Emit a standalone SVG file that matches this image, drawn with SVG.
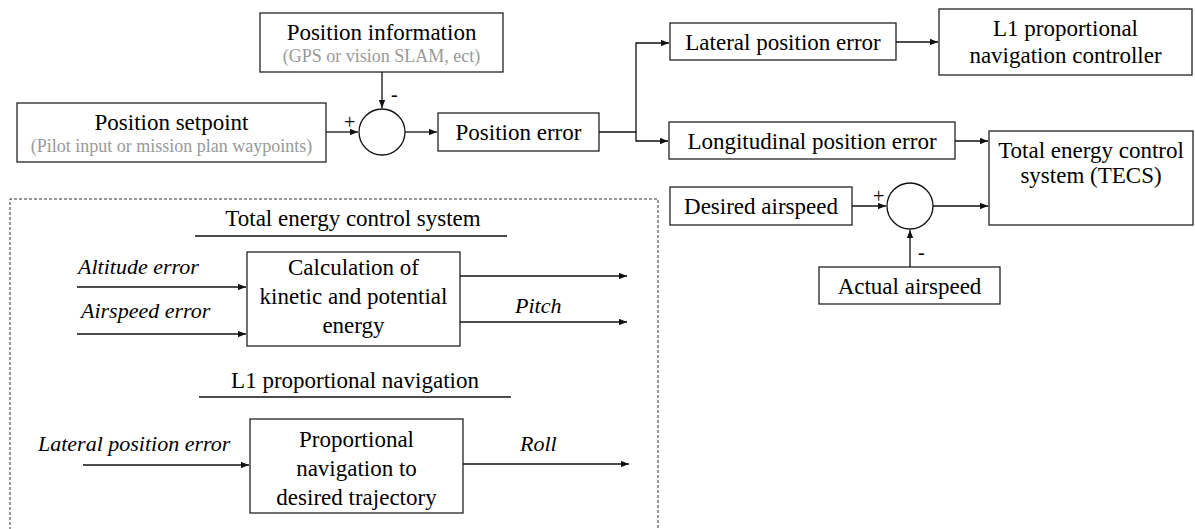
<svg xmlns="http://www.w3.org/2000/svg" width="1195" height="529" viewBox="0 0 1195 529">
<style>
.box{fill:#fff;stroke:#222;stroke-width:1.3}
.ln{fill:none;stroke:#111;stroke-width:1.3}
.t{font-family:"Liberation Serif","Times New Roman",Tinos,"DejaVu Serif",serif;font-size:23px;fill:#000;text-anchor:middle}
.s{font-family:"Liberation Serif","Times New Roman",Tinos,"DejaVu Serif",serif;font-size:18px;fill:#999;text-anchor:middle}
.i{font-family:"Liberation Serif","Times New Roman",Tinos,"DejaVu Serif",serif;font-size:22px;font-style:italic;fill:#000}
.sg{font-family:"Liberation Serif","Times New Roman",Tinos,"DejaVu Serif",serif;font-size:20px;fill:#000}
</style>
<defs>
<marker id="a" viewBox="0 0 10 8" refX="10" refY="4" markerWidth="8" markerHeight="6.4" markerUnits="userSpaceOnUse" orient="auto">
<path d="M0,0 L10,4 L0,8 z" fill="#111"/>
</marker>
</defs>
<g id="dashed-frame">
<path d="M10,530 L10,199 L658,199 L658,530" fill="none" stroke="#333" stroke-width="1" stroke-dasharray="3,2"/>
</g>
<g id="position-information">
<rect class="box" x="260" y="13" width="243" height="59"/>
<text class="t" x="381.5" y="40">Position information</text>
<text class="s" x="381.5" y="62">(GPS or vision SLAM, ect)</text>
</g>
<g id="position-setpoint">
<rect class="box" x="17" y="103" width="309" height="59"/>
<text class="t" x="171.5" y="130">Position setpoint</text>
<text class="s" x="171.5" y="152">(Pilot input or mission plan waypoints)</text>
</g>
<g id="sum1">
<circle cx="382" cy="132" r="23" fill="#fff" stroke="#111" stroke-width="1.3"/>
<text class="sg" x="344" y="129">+</text>
<text class="sg" x="391" y="101">-</text>
</g>
<g id="position-error">
<rect class="box" x="438" y="113" width="161" height="38"/>
<text class="t" x="518.5" y="140">Position error</text>
</g>
<g id="lateral-position-error">
<rect class="box" x="670" y="23" width="226" height="37"/>
<text class="t" x="783" y="50">Lateral position error</text>
</g>
<g id="longitudinal-position-error">
<rect class="box" x="669" y="122" width="286" height="37"/>
<text class="t" x="812" y="149">Longitudinal position error</text>
</g>
<g id="l1-controller">
<rect class="box" x="939" y="9" width="253" height="66"/>
<text class="t" x="1065.5" y="36">L1 proportional</text>
<text class="t" x="1065.5" y="63">navigation controller</text>
</g>
<g id="tecs">
<rect class="box" x="989" y="131" width="204" height="94"/>
<text class="t" x="1091" y="158">Total energy control</text>
<text class="t" x="1091" y="183">system (TECS)</text>
</g>
<g id="desired-airspeed">
<rect class="box" x="670" y="187" width="182" height="38"/>
<text class="t" x="761" y="214">Desired airspeed</text>
</g>
<g id="sum2">
<circle cx="910" cy="206" r="23" fill="#fff" stroke="#111" stroke-width="1.3"/>
<text class="sg" x="873" y="203">+</text>
<text class="sg" x="918" y="259">-</text>
</g>
<g id="actual-airspeed">
<rect class="box" x="819" y="267" width="181" height="37"/>
<text class="t" x="909.5" y="294">Actual airspeed</text>
</g>
<g id="tecs-detail">
<text class="t" x="353" y="226">Total energy control system</text>
<line class="ln" x1="195" y1="236" x2="507" y2="236"/>
<rect class="box" x="247" y="252" width="213" height="94"/>
<text class="t" x="353.5" y="275">Calculation of</text>
<text class="t" x="353.5" y="304">kinetic and potential</text>
<text class="t" x="353.5" y="333">energy</text>
<text class="i" x="78" y="274">Altitude error</text>
<text class="i" x="81" y="318">Airspeed error</text>
<text class="i" x="515" y="313">Pitch</text>
</g>
<g id="l1-detail">
<text class="t" x="355" y="388">L1 proportional navigation</text>
<line class="ln" x1="199" y1="397" x2="511" y2="397"/>
<rect class="box" x="250" y="419" width="213" height="94"/>
<text class="t" x="356.5" y="447">Proportional</text>
<text class="t" x="356.5" y="476">navigation to</text>
<text class="t" x="356.5" y="505">desired trajectory</text>
<text class="i" x="38" y="451">Lateral position error</text>
<text class="i" x="520" y="451">Roll</text>
</g>
<g id="connectors">
<path class="ln" d="M382,72 V108" marker-end="url(#a)"/>
<path class="ln" d="M326,132 H358" marker-end="url(#a)"/>
<path class="ln" d="M405,132 H437" marker-end="url(#a)"/>
<path class="ln" d="M599,132 H636 V43 H669" marker-end="url(#a)"/>
<path class="ln" d="M636,132 V141 H668" marker-end="url(#a)"/>
<path class="ln" d="M896,42 H938" marker-end="url(#a)"/>
<path class="ln" d="M955,141 H988" marker-end="url(#a)"/>
<path class="ln" d="M852,206 H886" marker-end="url(#a)"/>
<path class="ln" d="M933,206 H988" marker-end="url(#a)"/>
<path class="ln" d="M910,267 V230" marker-end="url(#a)"/>
<path class="ln" d="M77,287 H246" marker-end="url(#a)"/>
<path class="ln" d="M77,334 H246" marker-end="url(#a)"/>
<path class="ln" d="M460,276 H627" marker-end="url(#a)"/>
<path class="ln" d="M460,322 H627" marker-end="url(#a)"/>
<path class="ln" d="M83,465 H249" marker-end="url(#a)"/>
<path class="ln" d="M463,464 H629" marker-end="url(#a)"/>
</g>
</svg>
